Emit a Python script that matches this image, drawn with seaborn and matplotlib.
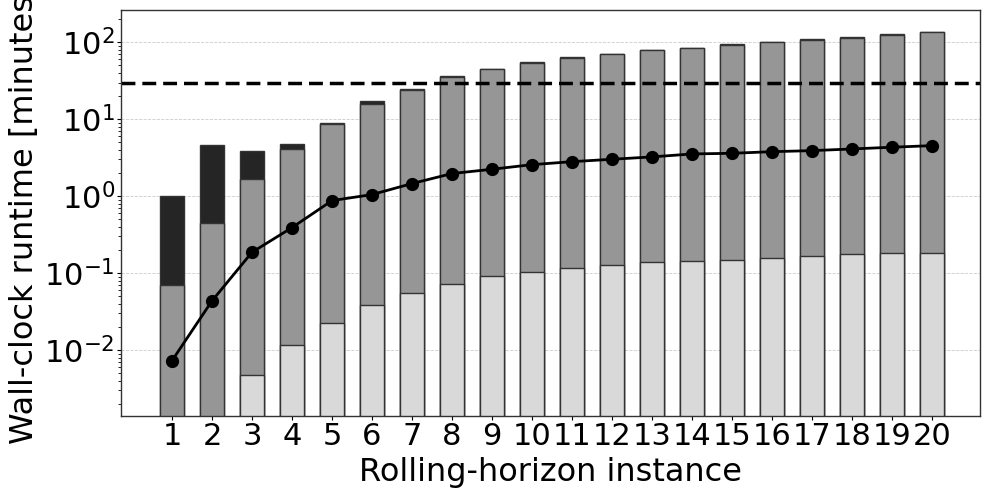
"""
Stacked runtime bars (log scale) per rolling-horizon instance, with the
median line and the 30-minute limit.
"""

import numpy as np
import pandas as pd
import matplotlib
matplotlib.use("Agg")
import matplotlib.pyplot as plt
import seaborn as sns

# ---------- DATA (minutes) ----------
instances = list(range(1, 21))

# cumulative top of each stacked segment
light_top = [0.001, 0.001, 0.0047, 0.0117, 0.0224, 0.038, 0.056, 0.0726, 0.093, 0.103,
             0.116, 0.127, 0.139, 0.143, 0.150, 0.158, 0.166, 0.175, 0.182, 0.185]
mid_top = [0.070, 0.454, 1.66, 4.08, 8.6, 15.9, 23.8, 35.0, 44.5, 54.0,
           63.3, 70.0, 78.3, 84.0, 93.0, 101.0, 108.0, 115.0, 126.0, 134.0]
total = [1.0, 4.68, 3.87, 4.73, 9.04, 17.3, 24.7, 36.8, 45.4, 55.0,
         64.4, 71.0, 79.4, 85.0, 94.0, 102.0, 109.0, 116.0, 127.0, 135.0]

line_vals = [0.0073, 0.0437, 0.187, 0.391, 0.877, 1.05, 1.46, 1.97, 2.24, 2.57,
             2.81, 3.02, 3.24, 3.54, 3.61, 3.79, 3.91, 4.11, 4.33, 4.54]

time_limit = 30.0

COLORS = {"dark": "#252525", "mid": "#969696", "light": "#d9d9d9"}
TICK_SIZE = 22
LABEL_SIZE = 23

df = pd.DataFrame({
    "instance": [str(i) for i in instances],
    "light": light_top,
    "mid": mid_top,
    "total": total,
    "line": line_vals,
})

# ---------- PLOT ----------
sns.set_style("white")
plt.rcParams["font.family"] = ["DejaVu Sans"]
plt.rcParams["text.color"] = "black"
plt.rcParams["axes.labelcolor"] = "black"
plt.rcParams["xtick.color"] = "black"
plt.rcParams["ytick.color"] = "black"

fig = plt.figure(figsize=(9.96, 4.98), dpi=100)
ax = fig.add_axes([0.1215, 0.165, 0.8625, 0.815])
ax.set_yscale("log")

# overlapping bars from tallest to shortest give the stacked look
for col, key in [("total", "dark"), ("mid", "mid"), ("light", "light")]:
    sns.barplot(data=df, x="instance", y=col, color=COLORS[key], width=0.6,
                edgecolor="#333333", linewidth=1.0, saturation=1, ax=ax,
                errorbar=None)

sns.pointplot(data=df, x="instance", y="line", color="black", markers="o",
              markersize=8, linewidth=2, ax=ax, errorbar=None)

ax.axhline(time_limit, color="black", linestyle=(0, (4, 2)), linewidth=2.5)

ax.set_ylim(0.0014, 263)
ax.set_xlim(-1.275, 20.2)
ax.yaxis.grid(True, which="major", linestyle="--", linewidth=0.6, color="#cccccc")
ax.set_axisbelow(True)

ax.tick_params(axis="both", which="major", labelsize=TICK_SIZE, length=3, pad=1.5,
               left=True, bottom=True)
ax.tick_params(axis="y", which="minor", length=2, left=True)

ax.set_xlabel("Rolling-horizon instance", fontsize=LABEL_SIZE, labelpad=4)
ax.set_ylabel("Wall-clock runtime [minutes]", fontsize=LABEL_SIZE, labelpad=3)

for spine in ax.spines.values():
    spine.set_color("#333333")
    spine.set_linewidth(1.0)

fig.savefig("out.png", dpi=100)
